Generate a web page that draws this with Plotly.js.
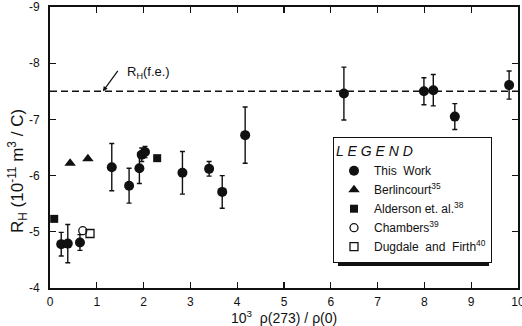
<!DOCTYPE html>
<html>
<head>
<meta charset="utf-8">
<script src="https://cdn.plot.ly/plotly-3.0.1.min.js"></script>
<style>html,body{margin:0;padding:0;background:#fff}</style>
</head>
<body>
<div id="chart" style="width:522px;height:326px"></div>
<script>
// Hall coefficient vs. resistance ratio
const thisWorkX   = [0.24, 0.38, 0.64, 1.32, 1.69, 1.91, 1.96, 2.03, 2.83, 3.40, 3.68, 4.17, 6.28, 7.99, 8.19, 8.65, 9.81];
const thisWorkY   = [-4.78, -4.79, -4.81, -6.15, -5.82, -6.13, -6.37, -6.42, -6.05, -6.12, -5.71, -6.72, -7.46, -7.50, -7.52, -7.05, -7.61];
const thisWorkErr = [0.21, 0.34, 0.14, 0.42, 0.31, 0.27, 0.12, 0.10, 0.38, 0.13, 0.29, 0.50, 0.47, 0.24, 0.28, 0.23, 0.25];

const berlincourtX = [0.43, 0.81];
const berlincourtY = [-6.22, -6.30];

const aldersonX = [0.09, 2.29];
const aldersonY = [-5.23, -6.31];

const chambersX = [0.70];
const chambersY = [-5.02];

const dugdaleX = [0.855];
const dugdaleY = [-4.97];

// free-electron value
const rhFreeElectron = -7.5;
const feLineX = [0, 10];

const xTickVals = [0, 1, 2, 3, 4, 5, 6, 7, 8, 9, 10];
const xTickText = ['0', '1', '2', '3', '4', '5', '6', '7', '8', '9', '10'];
const yTickVals = [-9, -8, -7, -6, -5, -4];
const yTickText = ['-9', '-8', '-7', '-6', '-5', '-4'];

const FONT = 'Liberation Sans, DejaVu Sans, sans-serif';
const INK = '#111';

// legend box in pixels (plot area spans x 50..518, y 7..288)
const LEG = {left: 333, top: 137, right: 484, bottom: 261};
const px2x = p => (p - 50) / 468;
const px2y = p => (288 - p) / 281;

const traces = [
  {
    x: feLineX, y: feLineX.map(() => rhFreeElectron),
    mode: 'lines', showlegend: false, hoverinfo: 'skip',
    line: {color: INK, width: 1.4, dash: '7px,4px'}
  },
  {
    name: 'This  Work', x: thisWorkX, y: thisWorkY, mode: 'markers',
    marker: {symbol: 'circle', size: 10, color: INK},
    error_y: {type: 'data', array: thisWorkErr, visible: true, color: INK, thickness: 1.4, width: 2.5}
  },
  {
    name: 'Berlincourt<sup>35</sup>', x: berlincourtX, y: berlincourtY, mode: 'markers',
    marker: {symbol: 'triangle-up', size: 10, color: INK}
  },
  {
    name: 'Alderson et. al.<sup>38</sup>', x: aldersonX, y: aldersonY, mode: 'markers',
    marker: {symbol: 'square', size: 8, color: INK}
  },
  {
    name: 'Chambers<sup>39</sup>', x: chambersX, y: chambersY, mode: 'markers',
    marker: {symbol: 'circle-open', size: 8, color: INK, line: {width: 1.3}}
  },
  {
    name: 'Dugdale  and  Firth<sup>40</sup>', x: dugdaleX, y: dugdaleY, mode: 'markers',
    marker: {symbol: 'square-open', size: 8, color: INK, line: {width: 1.3}}
  }
];

const layout = {
  width: 522, height: 326,
  margin: {l: 50, r: 4, t: 7, b: 38},
  paper_bgcolor: '#fff', plot_bgcolor: '#fff',
  font: {family: FONT, color: INK, size: 12},
  xaxis: {
    range: [0, 10], tickvals: xTickVals, ticktext: xTickText,
    ticks: 'inside', ticklen: 6, tickwidth: 1.3, tickcolor: INK,
    showline: true, linewidth: 2, linecolor: INK, mirror: 'ticks',
    showgrid: false, zeroline: false, ticklabeloverflow: 'allow',
    tickfont: {size: 12}, ticklabelstandoff: 2
  },
  yaxis: {
    range: [-4, -9], tickvals: yTickVals, ticktext: yTickText,
    ticks: 'inside', ticklen: 6, tickwidth: 1.3, tickcolor: INK,
    showline: true, linewidth: 2, linecolor: INK, mirror: 'ticks',
    showgrid: false, zeroline: false, ticklabeloverflow: 'allow',
    tickfont: {size: 12}, ticklabelstandoff: 6
  },
  showlegend: true,
  legend: {
    x: px2x(LEG.left), y: px2y(LEG.top), xanchor: 'left', yanchor: 'top',
    bgcolor: '#fff', bordercolor: INK, borderwidth: 1,
    font: {size: 12, family: FONT},
    title: {text: '<i>L E G E N D</i>', font: {size: 14}},
    itemclick: false
  },
  shapes: [
    // drop shadow behind the legend box
    {type: 'rect', xref: 'paper', yref: 'paper', layer: 'above',
     x0: px2x(LEG.left + 5), x1: px2x(LEG.right + 5),
     y0: px2y(LEG.bottom + 5), y1: px2y(LEG.top + 5),
     fillcolor: INK, line: {width: 0}}
  ],
  annotations: [
    {xref: 'paper', yref: 'paper', x: px2x(17), y: px2y(171),
     text: 'R<sub>H</sub> (10<sup>-11</sup> m<sup>3</sup> / C)', textangle: -90,
     showarrow: false, xanchor: 'center', yanchor: 'middle', font: {size: 17}},
    {xref: 'paper', yref: 'paper', x: px2x(284), y: px2y(317),
     text: '10<sup>3</sup>  ρ(273) / ρ(0)',
     showarrow: false, xanchor: 'center', yanchor: 'middle', font: {size: 14}},
    {x: 1.13, y: rhFreeElectron, xref: 'x', yref: 'y', text: '',
     showarrow: true, ax: 16, ay: -22, arrowhead: 2, arrowsize: 0.8, arrowwidth: 1.2, arrowcolor: INK},
    {x: 1.6, y: -7.84, xref: 'x', yref: 'y', text: 'R<sub>H</sub>(f.e.)',
     showarrow: false, xanchor: 'left', yanchor: 'middle', font: {size: 13}}
  ]
};

Plotly.newPlot('chart', traces, layout, {displayModeBar: false, staticPlot: true});
</script>
</body>
</html>
